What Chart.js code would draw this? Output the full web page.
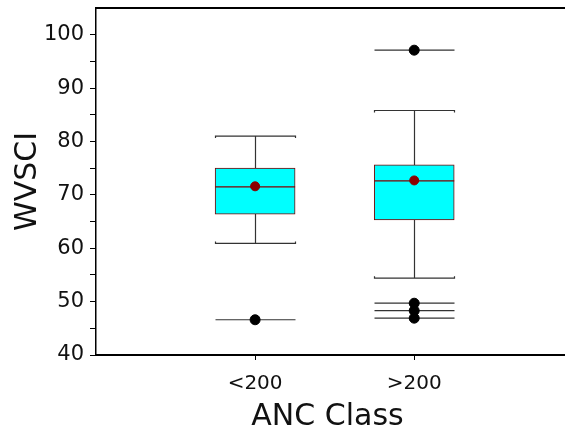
<!DOCTYPE html>
<html>
<head>
<meta charset="utf-8">
<script src="https://cdn.jsdelivr.net/npm/chart.js@4.4.1/dist/chart.umd.min.js"></script>
<style>
  html, body { margin: 0; padding: 0; background: #fff; }
  #wrap { width: 565px; height: 439px; }
</style>
</head>
<body>
<div id="wrap"><canvas id="grafico"></canvas></div>
<script>
// Dados
const categorias = ['<200', '>200'];
const posicoes = [1, 2];
const q1 = [66.4, 65.3];
const mediana = [71.5, 72.6];
const q3 = [75.0, 75.6];
const bigodeInf = [60.9, 54.4];
const bigodeSup = [81.0, 85.8];
const medias = [71.6, 72.7];
const outliers = [[46.6], [97.1, 49.7, 48.3, 46.9]];
const yTicks = [40, 45, 50, 55, 60, 65, 70, 75, 80, 85, 90, 95, 100];

const fonte = '"DejaVu Sans", sans-serif';
const meiaLargura = 40;

// Desenha bigodes, tampas e linhas dos outliers (antes dos datasets)
const boxPlugin = {
    id: 'boxPlugin',
    beforeDatasetsDraw(chart) {
        const ctx = chart.ctx, x = chart.scales.x, y = chart.scales.y;
        ctx.save();
        ctx.lineWidth = 1.2;
        ctx.strokeStyle = '#333';
        posicoes.forEach((p, i) => {
            const cx = Math.round(x.getPixelForValue(p)) + 0.5;
            const yb = y.getPixelForValue(bigodeInf[i]);
            const yt = y.getPixelForValue(bigodeSup[i]);
            ctx.beginPath();
            ctx.moveTo(cx, y.getPixelForValue(q1[i]));
            ctx.lineTo(cx, yb);
            ctx.moveTo(cx, y.getPixelForValue(q3[i]));
            ctx.lineTo(cx, yt);
            // tampas
            ctx.moveTo(cx - meiaLargura, yt + 2); ctx.lineTo(cx - meiaLargura, yt);
            ctx.lineTo(cx + meiaLargura, yt); ctx.lineTo(cx + meiaLargura, yt + 2);
            ctx.moveTo(cx - meiaLargura, yb - 2); ctx.lineTo(cx - meiaLargura, yb);
            ctx.lineTo(cx + meiaLargura, yb); ctx.lineTo(cx + meiaLargura, yb - 2);
            // linhas dos outliers
            outliers[i].forEach(v => {
                const yo = y.getPixelForValue(v);
                ctx.moveTo(cx - meiaLargura, yo);
                ctx.lineTo(cx + meiaLargura, yo);
            });
            ctx.stroke();
        });
        ctx.restore();
    },
    afterDatasetDraw(chart, args) {
        if (args.index !== 0) return;
        const ctx = chart.ctx, x = chart.scales.x, y = chart.scales.y;
        ctx.save();
        ctx.lineWidth = 1.2;
        ctx.strokeStyle = '#800000';
        posicoes.forEach((p, i) => {
            const cx = x.getPixelForValue(p);
            const ym = y.getPixelForValue(mediana[i]);
            ctx.beginPath();
            ctx.moveTo(cx - meiaLargura, ym);
            ctx.lineTo(cx + meiaLargura, ym);
            ctx.stroke();
        });
        ctx.restore();
    },
    afterDraw(chart) {
        // linhas de cima e de baixo do quadro, até a borda direita
        const ctx = chart.ctx, a = chart.chartArea;
        ctx.save();
        ctx.strokeStyle = '#000';
        ctx.lineWidth = 2;
        ctx.beginPath();
        ctx.moveTo(a.left, a.top);
        ctx.lineTo(chart.width, a.top);
        ctx.moveTo(a.left, a.bottom);
        ctx.lineTo(chart.width, a.bottom);
        ctx.stroke();
        ctx.restore();
    }
};

const pontosOutliers = [];
outliers.forEach((lista, i) => lista.forEach(v => pontosOutliers.push({ x: posicoes[i], y: v })));

new Chart(document.getElementById('grafico'), {
    data: {
        datasets: [
            {
                type: 'bar',
                order: 3,
                data: posicoes.map((p, i) => ({ x: p, y: [q1[i], q3[i]] })),
                backgroundColor: '#00FFFF',
                borderColor: '#800000',
                borderWidth: 1,
                borderSkipped: false,
                barThickness: 80
            },
            {
                type: 'scatter',
                order: 1,
                data: posicoes.map((p, i) => ({ x: p, y: medias[i] })),
                backgroundColor: '#8B0000',
                borderColor: '#8B0000',
                pointRadius: 4.5
            },
            {
                type: 'scatter',
                order: 2,
                data: pontosOutliers,
                backgroundColor: '#000',
                borderColor: '#000',
                pointRadius: 5
            }
        ]
    },
    options: {
        responsive: true,
        maintainAspectRatio: false,
        animation: false,
        layout: { padding: { top: 8, right: 0, left: 0, bottom: 0 } },
        plugins: { legend: { display: false }, tooltip: { enabled: false } },
        scales: {
            x: {
                type: 'linear',
                min: 0,
                max: 2.91,
                offset: false,
                afterBuildTicks: s => { s.ticks = posicoes.map(v => ({ value: v })); },
                afterFit: s => { s.height = 84; s.paddingRight = 0; },
                ticks: {
                    callback: v => categorias[posicoes.indexOf(v)] || '',
                    color: '#111',
                    font: { family: fonte, size: 20 },
                    padding: 12,
                    maxRotation: 0
                },
                grid: { offset: false, drawOnChartArea: false, drawTicks: true, tickLength: 5, color: '#000' },
                border: { color: '#000', width: 2 },
                title: {
                    display: true,
                    text: 'ANC Class',
                    color: '#111',
                    font: { family: fonte, size: 30 },
                    padding: { top: 0 }
                }
            },
            y: {
                min: 40,
                max: 105,
                afterBuildTicks: s => { s.ticks = yTicks.map(v => ({ value: v })); },
                afterFit: s => { s.width = 96; s.paddingTop = 0; s.paddingBottom = 0; },
                ticks: {
                    callback: v => (v % 10 === 0 ? v : ''),
                    color: '#111',
                    font: { family: fonte, size: 21 },
                    padding: 6
                },
                grid: { drawOnChartArea: false, drawTicks: true, tickLength: 6, color: '#000' },
                border: { color: '#000', width: 1.5 },
                title: {
                    display: true,
                    text: 'WVSCI',
                    color: '#111',
                    font: { family: fonte, size: 30 },
                    padding: { top: 10, bottom: 0 }
                }
            }
        }
    },
    plugins: [boxPlugin]
});
</script>
</body>
</html>
